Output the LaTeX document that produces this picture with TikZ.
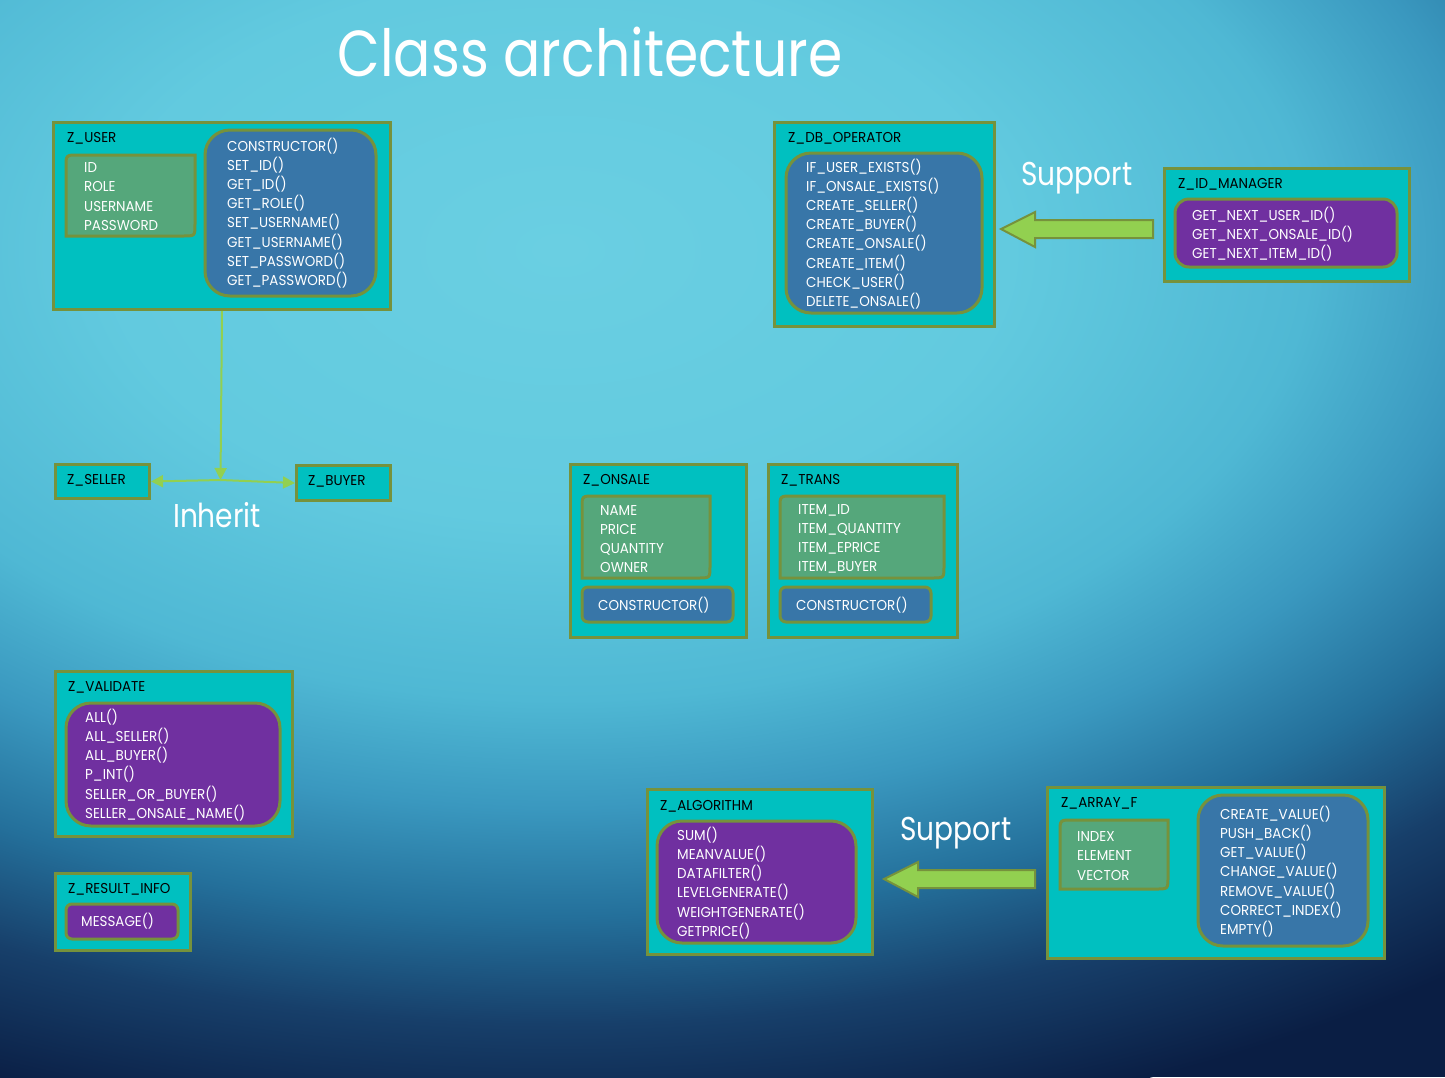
\documentclass[tikz,border=0pt]{standalone}
\usepackage{fontspec}
\setmainfont{Poppins}[FakeStretch=0.94]
\newfontfamily\headfont{Poppins}[FakeStretch=0.85]
\usetikzlibrary{arrows.meta}

\definecolor{boxfill}{HTML}{00C0C0}
\definecolor{boxedge}{HTML}{76923C}
\definecolor{attrfill}{HTML}{55A77B}
\definecolor{methfill}{HTML}{3876A8}
\definecolor{utilfill}{HTML}{7030A0}
\definecolor{linkgreen}{HTML}{92D050}
\definecolor{bgA}{HTML}{6ACFE2}
\definecolor{bgB}{HTML}{62CADF}
\definecolor{bgC}{HTML}{4FB8D4}
\definecolor{bgD}{HTML}{3A98BF}
\definecolor{bgE}{HTML}{24709B}
\definecolor{bgF}{HTML}{173F6A}
\definecolor{bgG}{HTML}{0A1E44}

\pgfdeclareradialshading{bgglow}{\pgfpoint{0bp}{0bp}}{color(0bp)=(bgA); color(7.5bp)=(bgB); color(12.5bp)=(bgC); color(15.5bp)=(bgD); color(18.5bp)=(bgE); color(21.5bp)=(bgF); color(25bp)=(bgG); color(50bp)=(bgG)}

\tikzset{
  classbox/.style={draw=boxedge, line width=3pt, fill=boxfill, anchor=north west, inner sep=0pt},
  classname/.style={anchor=west, inner sep=0pt, font=\fontsize{14.3}{16}\selectfont},
  attrbox/.style={draw=boxedge, line width=3pt, fill=attrfill},
  methbox/.style={draw=boxedge, line width=3pt, fill=methfill, rounded corners=25pt},
  utilbox/.style={draw=boxedge, line width=3pt, fill=utilfill, rounded corners=25pt},
  members/.style={anchor=west, inner sep=0pt, align=left, text=white, font=\fontsize{14.3}{19.2}\selectfont},
  inherit/.style={draw=linkgreen, line width=2pt, -{Triangle[length=12pt,width=12pt]}},
  support/.style={draw=boxedge, line width=2pt, fill=linkgreen},
  bigtext/.style={text=white, inner sep=0pt, font=\headfont\fontsize{33}{36}\selectfont}
}

\begin{document}
\begin{tikzpicture}[x=1pt, y=-1pt]
\useasboundingbox (0,0) rectangle (1445,1077);

% background
\fill[bgG] (0,0) rectangle (1445,1077);
\begin{scope}
\clip (0,0) rectangle (1445,1077);
\shade[shading=bgglow] (560,250) ellipse [x radius=1500pt, y radius=900pt];
\end{scope}

\node[text=white, inner sep=0pt, font=\headfont\fontsize{65}{70}\selectfont] (title) at (590,52) {Class architecture};

% Z_USER
\node[classbox, minimum width=337pt, minimum height=187pt] (user) at (52,121) {};
\node[classname] (username) at (67,138) {Z\_USER};
\draw[attrbox] (66,236) -- (66,167) .. controls (66,155) .. (78,155) -- (195,155)
    -- (195,224) .. controls (195,236) .. (183,236) -- cycle;
\draw[methbox] (205,130) rectangle (376,296);
\node[members] (userattr) at (84,196.5) {ID\\ROLE\\USERNAME\\PASSWORD};
\node[members] (usermeth) at (227,213) {CONSTRUCTOR()\\SET\_ID()\\GET\_ID()\\GET\_ROLE()\\SET\_USERNAME()\\GET\_USERNAME()\\SET\_PASSWORD()\\GET\_PASSWORD()};

% Z_DB_OPERATOR
\node[classbox, minimum width=220pt, minimum height=204pt] (dbop) at (773,121) {};
\node[classname] (dbopname) at (788,138) {Z\_DB\_OPERATOR};
\draw[methbox] (786,153) rectangle (982,313);
\node[members] (dbopmeth) at (806,234) {IF\_USER\_EXISTS()\\IF\_ONSALE\_EXISTS()\\CREATE\_SELLER()\\CREATE\_BUYER()\\CREATE\_ONSALE()\\CREATE\_ITEM()\\CHECK\_USER()\\DELETE\_ONSALE()};

% Z_ID_MANAGER
\node[classbox, minimum width=245pt, minimum height=113pt] (idman) at (1163,167) {};
\node[classname] (idmanname) at (1178,184) {Z\_ID\_MANAGER};
\draw[utilbox, rounded corners=14pt] (1175,199) rectangle (1397,267);
\node[members] (idmanmeth) at (1192,234) {GET\_NEXT\_USER\_ID()\\GET\_NEXT\_ONSALE\_ID()\\GET\_NEXT\_ITEM\_ID()};

\draw[support] (1153,220) -- (1035,220) -- (1035,212) -- (1001,229) -- (1035,247) -- (1035,238) -- (1153,238) -- cycle;
\node[bigtext] (support1) at (1077,178) {Support};

% Z_SELLER / Z_BUYER
\node[classbox, minimum width=94pt, minimum height=34pt] (seller) at (54,463) {};
\node[classname] (sellername) at (67,480) {Z\_SELLER};
\node[classbox, minimum width=94pt, minimum height=35pt] (buyer) at (295,464) {};
\node[classname] (buyername) at (308,481) {Z\_BUYER};
\coordinate (junction) at (220.5,480);
\draw[inherit] (user.south) -- (junction);
\draw[inherit] (junction) -- (seller.east);
\draw[inherit] (junction) -- (buyer.west);
\node[bigtext] (inherit) at (217,515) {Inherit};

% Z_ONSALE
\node[classbox, minimum width=176pt, minimum height=173pt] (onsale) at (569,463) {};
\node[classname] (onsalename) at (583,480) {Z\_ONSALE};
\draw[attrbox] (582,578) -- (582,508) .. controls (582,496) .. (594,496) -- (710,496)
    -- (710,566) .. controls (710,578) .. (698,578) -- cycle;
\draw[methbox, rounded corners=6pt] (582,587) rectangle (733,622);
\node[members] (onsaleattr) at (600,539) {NAME\\PRICE\\QUANTITY\\OWNER};
\node[members] (onsalemeth) at (598,605) {CONSTRUCTOR()};

% Z_TRANS
\node[classbox, minimum width=189pt, minimum height=173pt] (trans) at (767,463) {};
\node[classname] (transname) at (781,480) {Z\_TRANS};
\draw[attrbox] (780,578) -- (780,508) .. controls (780,496) .. (792,496) -- (944,496)
    -- (944,566) .. controls (944,578) .. (932,578) -- cycle;
\draw[methbox, rounded corners=6pt] (780,587) rectangle (931,622);
\node[members] (transattr) at (798,539) {ITEM\_ID\\ITEM\_QUANTITY\\ITEM\_EPRICE\\ITEM\_BUYER};
\node[members] (transmeth) at (796,605) {CONSTRUCTOR()};

% Z_VALIDATE
\node[classbox, minimum width=237pt, minimum height=165pt] (validate) at (54,670) {};
\node[classname] (validatename) at (68,687) {Z\_VALIDATE};
\draw[utilbox] (66,703) rectangle (280,826);
\node[members] (validatemeth) at (85,765) {ALL()\\ALL\_SELLER()\\ALL\_BUYER()\\P\_INT()\\SELLER\_OR\_BUYER()\\SELLER\_ONSALE\_NAME()};

% Z_RESULT_INFO
\node[classbox, minimum width=135pt, minimum height=77pt] (result) at (54,872) {};
\node[classname] (resultname) at (68,889) {Z\_RESULT\_INFO};
\draw[utilbox, rounded corners=6pt] (66,904) rectangle (178,939);
\node[members] (resultmeth) at (81,921) {MESSAGE()};

% Z_ALGORITHM
\node[classbox, minimum width=225pt, minimum height=165pt] (algo) at (646,788) {};
\node[classname] (algoname) at (660,806) {Z\_ALGORITHM};
\draw[utilbox] (657,821) rectangle (856,943);
\node[members] (algometh) at (677,883) {SUM()\\MEANVALUE()\\DATAFILTER()\\LEVELGENERATE()\\WEIGHTGENERATE()\\GETPRICE()};

\draw[support] (1035,870) -- (918,870) -- (918,862) -- (884,879) -- (918,897) -- (918,888) -- (1035,888) -- cycle;
\node[bigtext] (support2) at (956,833) {Support};

% Z_ARRAY_F
\node[classbox, minimum width=337pt, minimum height=171pt] (array) at (1046,786) {};
\node[classname] (arrayname) at (1061,803) {Z\_ARRAY\_F};
\draw[attrbox] (1060,889) -- (1060,832) .. controls (1060,820) .. (1072,820) -- (1168,820)
    -- (1168,877) .. controls (1168,889) .. (1156,889) -- cycle;
\draw[methbox] (1198,795) rectangle (1368,946);
\node[members] (arrayattr) at (1077,856) {INDEX\\ELEMENT\\VECTOR};
\node[members] (arraymeth) at (1220,871.5) {CREATE\_VALUE()\\PUSH\_BACK()\\GET\_VALUE()\\CHANGE\_VALUE()\\REMOVE\_VALUE()\\CORRECT\_INDEX()\\EMPTY()};
\end{tikzpicture}
\end{document}
